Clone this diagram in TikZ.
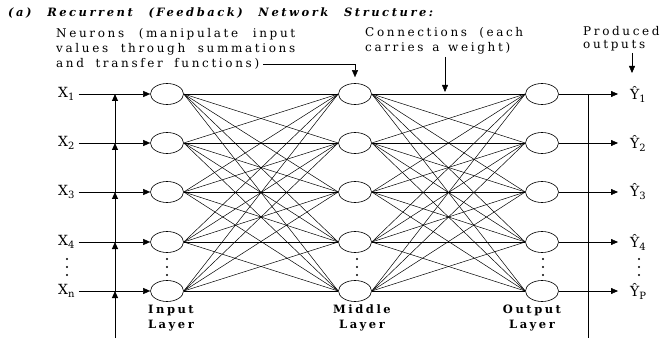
\documentclass[tikz,border=0pt]{standalone}
\usepackage{fontspec}
\setmainfont{DejaVu Serif}[LetterSpace=8]
\newfontfamily\widefont{DejaVu Serif}[LetterSpace=22]
\usetikzlibrary{shapes.geometric,arrows.meta}

\begin{document}
\begin{tikzpicture}[x=1pt, y=-1pt]
        % Define styles
        \tikzstyle{neuron}=[ellipse, draw, line width=0.6pt, minimum width=33pt, minimum height=21pt, inner sep=0pt]
        \tikzstyle{arrow}=[-{Triangle[length=7pt, width=6pt]}]
        \tikzstyle{note}=[anchor=west, inner sep=0pt, font=\widefont\fontsize{12}{14}\selectfont]
        \tikzstyle{layer}=[align=center, inner sep=0pt, font=\widefont\bfseries\fontsize{11.5}{14.5}\selectfont]
        \tikzstyle{var}=[anchor=west, inner sep=0pt, font=\fontsize{14}{16}\selectfont]
        \tikzstyle{conn}=[line width=0.5pt]

        \useasboundingbox (0,0) rectangle (661,339);

        % Title
        \node[anchor=west, inner sep=0pt, font=\widefont\bfseries\itshape\fontsize{11.5}{14}\selectfont] (title) at (8,13)
            {\makebox[425pt][s]{(a) Recurrent (Feedback) Network Structure:}};

        % Notes
        \node[note] (neur1) at (56,34) {\makebox[239pt][s]{Neurons (manipulate input}};
        \node[note] (neur2) at (56,49) {\makebox[239pt][s]{values through summations}};
        \node[note] (neur3) at (56,64) {\makebox[203pt][s]{and transfer functions)}};
        \node[note] (conn1) at (365,33) {\makebox[158pt][s]{Connections (each}};
        \node[note] (conn2) at (365,48) {\makebox[145pt][s]{carries a weight)}};
        \node[note] (prod1) at (583,31) {Produced};
        \node[note] (prod2) at (583,46) {outputs};

        % Neurons
        \foreach \i/\y in {1/94, 2/143, 3/192, 4/242, 5/291} {
            \node[neuron] (in\i) at (167,\y) {};
            \node[neuron] (mid\i) at (355,\y) {};
            \node[neuron] (out\i) at (542,\y) {};
            \coordinate (fbl\i) at (115,\y);
        }
        \coordinate (fbl0) at (115,338);
        \coordinate (fbr1) at (588,94);
        \coordinate (fbr0) at (588,338);
        \coordinate (wtop) at (445,57);
        \coordinate (wbot) at (445,92);
        \coordinate (ptop) at (632,53);
        \coordinate (pbot) at (632,73);

        % Inputs and outputs
        \node[var] (xl1) at (58,94) {X\raisebox{-3pt}{\normalsize 1}};
        \node[var] (xl2) at (58,143) {X\raisebox{-3pt}{\normalsize 2}};
        \node[var] (xl3) at (58,192) {X\raisebox{-3pt}{\normalsize 3}};
        \node[var] (xl4) at (58,242) {X\raisebox{-3pt}{\normalsize 4}};
        \node[var] (xl5) at (58,291) {X\raisebox{-3pt}{\normalsize n}};
        \node[var] (yl1) at (630,94) {Ŷ\raisebox{-3pt}{\normalsize 1}};
        \node[var] (yl2) at (630,143) {Ŷ\raisebox{-3pt}{\normalsize 2}};
        \node[var] (yl3) at (630,192) {Ŷ\raisebox{-3pt}{\normalsize 3}};
        \node[var] (yl4) at (630,242) {Ŷ\raisebox{-3pt}{\normalsize 4}};
        \node[var] (yl5) at (630,291) {Ŷ\raisebox{-3pt}{\normalsize P}};

        % Layer labels
        \node[layer] (inlab) at (171,318) {Input\\Layer};
        \node[layer] (midlab) at (362,318) {Middle\\Layer};
        \node[layer] (outlab) at (532,318) {Output\\Layer};

        % Connections
        \foreach \i in {1,...,5} {
            \foreach \j in {1,...,5} {
                \draw[conn] (in\i.east) -- (mid\j.west);
                \draw[conn] (mid\i.east) -- (out\j.west);
            }
            \draw[arrow] ([xshift=4pt]xl\i.east) -- (in\i.west);
            \draw[arrow, shorten >=12pt] (out\i.east) -- (yl\i.west);
        }

        % Feedback lines
        \draw[arrow, line width=1pt] (fbl0) -- (fbl5);
        \draw[arrow, line width=1pt] (fbl5) -- (fbl4);
        \draw[arrow, line width=1pt] (fbl4) -- (fbl3);
        \draw[arrow, line width=1pt] (fbl3) -- (fbl2);
        \draw[arrow, line width=1pt] (fbl2) -- (fbl1);
        \draw[line width=1pt] (fbr1) -- (fbr0);

        % Pointers
        \draw[arrow, shorten >=6pt] ([xshift=4pt]neur3.east) -| (mid1.north);
        \draw[arrow] (wtop) -- (wbot);
        \draw[arrow] (ptop) -- (pbot);

        % Dots
        \foreach \x in {67,167,357,543,639} {
            \foreach \y in {259,267,275} {
                \fill (\x,\y) circle (1.1pt);
            }
        }
\end{tikzpicture}
\end{document}
